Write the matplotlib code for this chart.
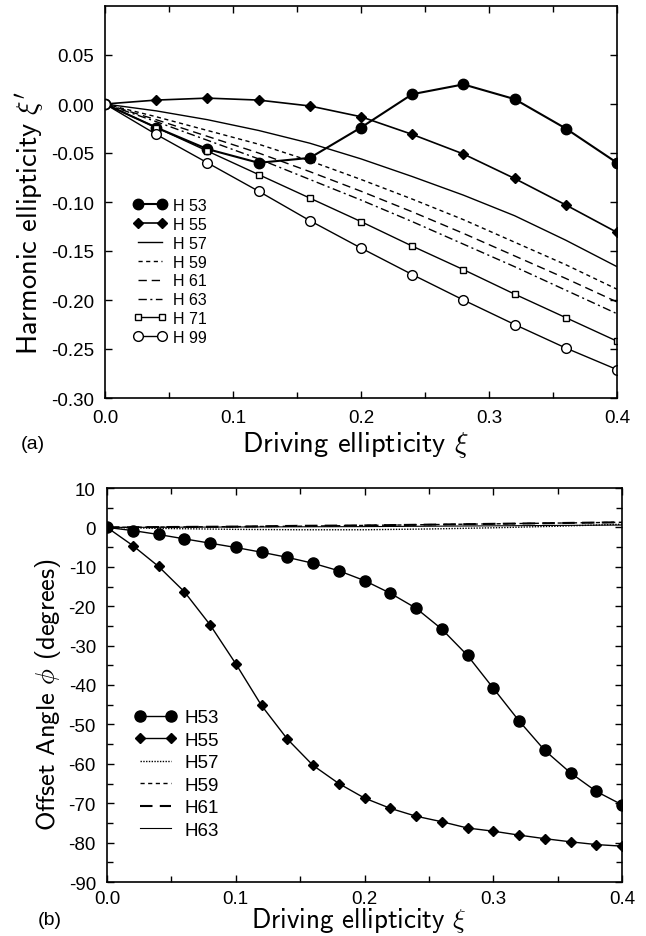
import matplotlib
matplotlib.use("Agg")
import matplotlib.pyplot as plt
from matplotlib.ticker import MultipleLocator, FixedLocator

plt.rcParams["mathtext.fontset"] = "cm"
plt.rcParams["axes.unicode_minus"] = False
TICK_FONT = "Liberation Sans"
LABEL_FONT = "cmss10"

# ---------------- data: panel (a) ----------------
xi_a = [0.00, 0.04, 0.08, 0.12, 0.16, 0.20, 0.24, 0.28, 0.32, 0.36, 0.40]
h53_a = [0.0, -0.024, -0.046, -0.060, -0.055, -0.024, 0.010, 0.020, 0.005, -0.025, -0.060]
h55_a = [0.0, 0.004, 0.006, 0.004, -0.002, -0.013, -0.031, -0.051, -0.076, -0.103, -0.131]
h57_a = [0.0, -0.007, -0.016, -0.027, -0.040, -0.056, -0.074, -0.093, -0.114, -0.139, -0.166]
h59_a = [0.0, -0.013, -0.027, -0.041, -0.058, -0.077, -0.097, -0.118, -0.141, -0.164, -0.189]
h61_a = [0.0, -0.016, -0.033, -0.050, -0.069, -0.089, -0.110, -0.132, -0.155, -0.178, -0.202]
h63_a = [0.0, -0.018, -0.037, -0.056, -0.077, -0.098, -0.120, -0.143, -0.166, -0.190, -0.214]
h71_a = [0.0, -0.024, -0.048, -0.072, -0.096, -0.120, -0.145, -0.169, -0.194, -0.218, -0.242]
h99_a = [0.0, -0.031, -0.060, -0.089, -0.119, -0.147, -0.174, -0.200, -0.225, -0.249, -0.271]

# ---------------- data: panel (b) ----------------
xi_b = [0.00, 0.02, 0.04, 0.06, 0.08, 0.10, 0.12, 0.14, 0.16, 0.18, 0.20,
        0.22, 0.24, 0.26, 0.28, 0.30, 0.32, 0.34, 0.36, 0.38, 0.40]
h53_b = [0, -0.8, -1.8, -2.9, -4.0, -5.1, -6.3, -7.6, -9.1, -11.0, -13.5,
         -16.7, -20.5, -25.8, -32.5, -40.8, -49.1, -56.6, -62.3, -67.0, -70.4]
h55_b = [0, -4.6, -9.9, -16.3, -24.7, -34.6, -45.2, -53.7, -60.4, -65.0, -68.7,
         -71.3, -73.3, -74.7, -76.3, -77.1, -78.1, -79.0, -79.8, -80.5, -80.9]
xi_c = [0.00, 0.05, 0.10, 0.15, 0.20, 0.25, 0.30, 0.35, 0.40]
h57_b = [0, -0.3, -0.5, -0.6, -0.6, -0.4, -0.1, 0.3, 0.8]
h59_b = [0, 0.1, 0.2, 0.3, 0.5, 0.7, 0.9, 1.1, 1.3]
h61_b = [0, 0.1, 0.2, 0.4, 0.5, 0.7, 0.9, 1.1, 1.3]
h63_b = [0, 0.05, 0.1, 0.15, 0.2, 0.3, 0.4, 0.5, 0.6]

fig = plt.figure(figsize=(6.46, 9.37), dpi=100)
W, H = 646, 937
ax1 = fig.add_axes([105 / W, 1 - 399 / H, 512 / W, 392 / H])
ax2 = fig.add_axes([107 / W, 1 - 883 / H, 515 / W, 394 / H])

k = dict(color="black")
# panel (a)
ax1.plot(xi_a, h53_a, "-o", lw=1.5, ms=7.5, label="H 53", **k)
ax1.plot(xi_a, h55_a, "-D", lw=1.2, ms=5, label="H 55", **k)
ax1.plot(xi_a, h57_a, "-", lw=1.0, label="H 57", **k)
ax1.plot(xi_a, h59_a, lw=1.0, dashes=(3, 2.5), label="H 59", **k)
ax1.plot(xi_a, h61_a, lw=1.0, dashes=(6, 3.5), label="H 61", **k)
ax1.plot(xi_a, h63_a, lw=1.0, dashes=(6, 2.5, 1.5, 2.5), label="H 63", **k)
ax1.plot(xi_a, h71_a, "-s", lw=1.0, ms=5, mfc="white", mew=1.0, label="H 71", **k)
ax1.plot(xi_a, h99_a, "-o", lw=1.0, ms=7, mfc="white", mew=1.0, label="H 99", **k)

# panel (b)
ax2.plot(xi_b, h53_b, "-o", lw=1.0, ms=8, label="H53", **k)
ax2.plot(xi_b, h55_b, "-D", lw=1.0, ms=5.5, label="H55", **k)
ax2.plot(xi_c, h57_b, lw=1.0, dashes=(1, 1), label="H57", **k)
ax2.plot(xi_c, h59_b, lw=1.0, dashes=(3, 2.5), label="H59", **k)
ax2.plot(xi_c, h61_b, lw=1.5, dashes=(6, 3.5), label="H61", **k)
ax2.plot(xi_c, h63_b, "-", lw=0.8, label="H63", **k)

ax1.set_xlim(0, 0.4); ax1.set_ylim(-0.30, 0.10)
ax1.yaxis.set_major_locator(FixedLocator([-0.30, -0.25, -0.20, -0.15, -0.10, -0.05, 0.0, 0.05]))
ax1.yaxis.set_major_formatter(plt.FuncFormatter(lambda v, p: f"{v:.2f}".replace("-0.00", "0.00")))
ax2.set_xlim(0, 0.4); ax2.set_ylim(-90, 10)
ax2.yaxis.set_major_locator(MultipleLocator(10))
ax2.yaxis.set_minor_locator(MultipleLocator(5))

for ax in (ax1, ax2):
    ax.xaxis.set_major_locator(MultipleLocator(0.1))
    ax.xaxis.set_minor_locator(MultipleLocator(0.05))
    ax.xaxis.set_major_formatter(plt.FuncFormatter(lambda v, p: f"{v:.1f}"))
    ax.tick_params(which="both", direction="in", top=True, right=True, width=1.0)
    ax.tick_params(which="major", length=5, pad=8, labelsize=13.5)
    ax.tick_params(which="minor", length=4)
    for lab in ax.get_xticklabels() + ax.get_yticklabels():
        lab.set_fontfamily(TICK_FONT)
    for s in ax.spines.values():
        s.set_linewidth(1.2)
ax2.tick_params(axis="x", which="major", pad=6)

# axis labels
ax1.set_xlabel(r"Driving ellipticity $\xi$", fontsize=20.5, family=LABEL_FONT)
ax1.set_ylabel(r"Harmonic ellipticity $\xi'$", fontsize=20.5, family=LABEL_FONT)
ax2.set_xlabel(r"Driving ellipticity $\xi$", fontsize=19.5, family=LABEL_FONT)
ax2.set_ylabel(r"Offset Angle $\phi$ (degrees)", fontsize=19, family=LABEL_FONT)
ax1.xaxis.label.set_va("center"); ax1.xaxis.set_label_coords(0.49, -(445 - 399) / 392)
ax1.yaxis.label.set_va("center"); ax1.yaxis.set_label_coords(-(105 - 30) / 512, 0.45)
ax2.xaxis.label.set_va("center"); ax2.xaxis.set_label_coords(0.49, -(921 - 883) / 394)
ax2.yaxis.label.set_va("center"); ax2.yaxis.set_label_coords(-(107 - 48) / 515, 0.477)

fig.text(33 / W, 1 - 445 / H, "(a)", fontsize=14, family=TICK_FONT, ha="center", va="center")
fig.text(50 / W, 1 - 921 / H, "(b)", fontsize=14, family=TICK_FONT, ha="center", va="center")

# legends
leg1 = ax1.legend(loc="upper left", bbox_to_anchor=(0.055, 0.51), frameon=False, numpoints=2,
                  borderpad=0, borderaxespad=0, handlelength=2.1, handletextpad=0.37,
                  labelspacing=0.24, prop={"family": TICK_FONT, "size": 11.5})
leg2 = ax2.legend(loc="upper left", bbox_to_anchor=(0.054, 0.439), frameon=False, numpoints=2,
                  borderpad=0, borderaxespad=0, handlelength=2.24, handletextpad=0.43,
                  labelspacing=0.29, prop={"family": TICK_FONT, "size": 13.5})

fig.savefig("out.png", dpi=100)
